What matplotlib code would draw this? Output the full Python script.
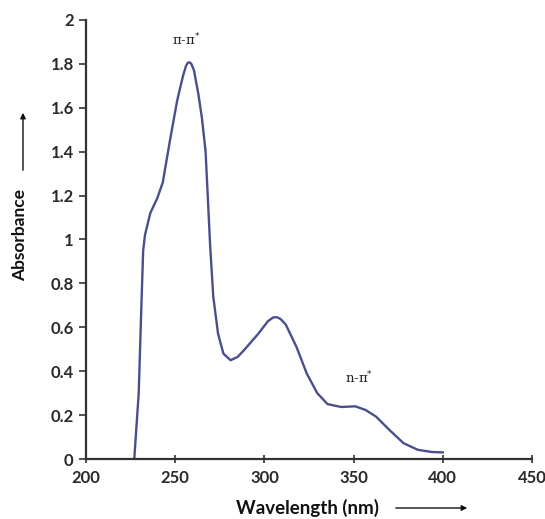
import matplotlib
matplotlib.use("Agg")
import matplotlib.pyplot as plt

# Spekter, odčitan s slike
valovna_dolzina = [
    227, 228, 229.5, 231, 232, 233, 236, 240, 243, 247, 251, 253, 254.5, 256,
    257, 258, 259, 260.5, 263, 265, 267, 268.5, 269.5, 271.3, 274, 277, 281,
    285, 289, 296.5, 302, 305, 307, 309, 312, 318, 323.7, 329.6, 335.4, 343,
    351, 356.8, 362.6, 370, 378, 386, 393.7, 400,
]
absorbanca = [
    0.0, 0.12, 0.30, 0.70, 0.95, 1.02, 1.12, 1.19, 1.26, 1.45, 1.63, 1.70, 1.75,
    1.79, 1.805, 1.807, 1.80, 1.77, 1.66, 1.55, 1.40, 1.15, 0.98, 0.74, 0.57,
    0.48, 0.45, 0.465, 0.50, 0.57, 0.628, 0.645, 0.646, 0.638, 0.612, 0.51,
    0.39, 0.30, 0.25, 0.237, 0.24, 0.223, 0.193, 0.133, 0.072, 0.042, 0.032,
    0.03,
]
x_ticki = [200, 250, 300, 350, 400, 450]
y_ticki = [0, 0.2, 0.4, 0.6, 0.8, 1, 1.2, 1.4, 1.6, 1.8, 2]
y_oznake = ["0", "0.2", "0.4", "0.6", "0.8", "1", "1.2", "1.4", "1.6", "1.8", "2"]
prehodi = ["π-π$^{*}$", "n-π$^{*}$"]
prehodi_x = [256, 353]
prehodi_y = [1.91, 0.37]

plt.rcParams["font.family"] = ["Lato", "DejaVu Sans"]
barva_crte = "#4a4e8c"
siva = "#333333"

fig = plt.figure(figsize=(5.45, 5.19), dpi=100)
os_ = fig.add_axes([0.158, 0.1156, 0.818, 0.846])
os_.plot(valovna_dolzina, absorbanca, color=barva_crte, linewidth=1.7,
         solid_joinstyle="round")

os_.set_xlim(200, 450)
os_.set_ylim(0, 2)
os_.set_xticks(x_ticki)
os_.set_yticks(y_ticki)
os_.set_yticklabels(y_oznake)
os_.spines["top"].set_visible(False)
os_.spines["right"].set_visible(False)
for s in ["left", "bottom"]:
    os_.spines[s].set_color(siva)
    os_.spines[s].set_linewidth(1.6)
os_.tick_params(axis="x", direction="inout", length=6, width=1.2, colors=siva,
                labelsize=12, pad=5)
os_.tick_params(axis="y", direction="out", length=5, width=1.2, colors=siva,
                labelsize=12, pad=4)
for t in os_.get_xticklabels() + os_.get_yticklabels():
    t.set_fontweight("bold")
    t.set_color("#2a2a2a")

for besedilo, xx, yy in zip(prehodi, prehodi_x, prehodi_y):
    os_.text(xx, yy, besedilo, ha="center", va="center", fontsize=9.5,
             family=["DejaVu Serif"], color="#222222")

# Oznake osi s puščicami
fig.text(0.564, 0.021, "Wavelength (nm)", ha="center", va="center",
         fontsize=13.5, fontweight="bold", color="#111111")
fig.text(0.037, 0.547, "Absorbance", ha="center", va="center", rotation=90,
         fontsize=12.5, fontweight="bold", color="#111111")
fig.patches.append(matplotlib.patches.FancyArrowPatch(
    (393 / 545, 1 - 508 / 519), (470 / 545, 1 - 508 / 519),
    transform=fig.transFigure, arrowstyle="-|>", mutation_scale=8,
    color="#111111", linewidth=1.0))
fig.patches.append(matplotlib.patches.FancyArrowPatch(
    (23 / 545, 1 - 173 / 519), (23 / 545, 1 - 110 / 519),
    transform=fig.transFigure, arrowstyle="-|>", mutation_scale=8,
    color="#111111", linewidth=1.0))

fig.savefig("out.png", dpi=100)
